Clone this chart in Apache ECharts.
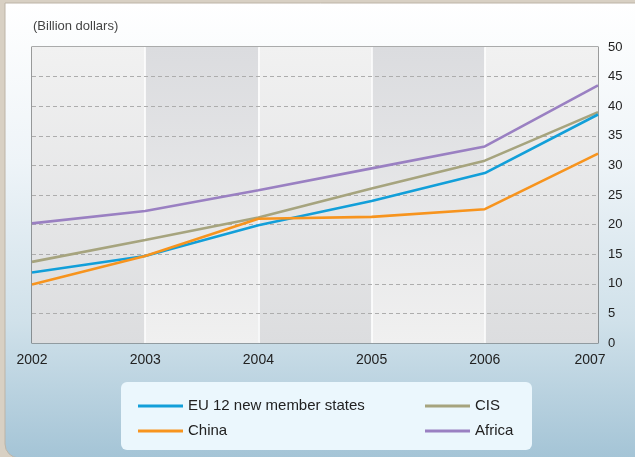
<!DOCTYPE html>
<html>
<head>
<meta charset="utf-8">
<script src="https://cdn.jsdelivr.net/npm/echarts@6/dist/echarts.min.js"></script>
<style>
html,body{margin:0;padding:0;background:#d8d0c3;}
#chart{width:635px;height:457px;}
</style>
</head>
<body>
<div id="chart"></div>
<script>
// ---- data ----
const years = ['2002', '2003', '2004', '2005', '2006', '2007'];
const yTicks = [0, 5, 10, 15, 20, 25, 30, 35, 40, 45, 50];
const euNew = [11.9, 14.7, 19.9, 24.0, 28.7, 38.6];
const china = [9.9, 14.7, 21.0, 21.3, 22.6, 32.0];
const cis = [13.7, 17.4, 21.2, 26.1, 30.8, 39.0];
const africa = [20.2, 22.3, 25.8, 29.5, 33.2, 43.5];
const seriesNames = ['EU 12 new member states', 'China', 'CIS', 'Africa'];

const FONT = "'Liberation Sans', Arial, sans-serif";
const chart = echarts.init(document.getElementById('chart'), null, {renderer: 'canvas'});

function grad(top, bottom) {
  return new echarts.graphic.LinearGradient(0, 0, 0, 1, [
    {offset: 0, color: top}, {offset: 1, color: bottom}
  ]);
}

const legendCommon = {
  orient: 'vertical', top: 396, padding: 0,
  icon: 'rect', itemWidth: 45, itemHeight: 3, itemGap: 5,
  textStyle: {fontFamily: FONT, fontSize: 15, color: '#222', lineHeight: 20}
};

const option = {
  backgroundColor: 'transparent',
  animation: false,
  graphic: [
    {
      type: 'rect', z: -10, silent: true,
      shape: {x: 5, y: 3, width: 640, height: 455, r: [0, 0, 0, 14]},
      style: {
        fill: new echarts.graphic.LinearGradient(0, 0, 0, 1, [
          {offset: 0, color: '#ffffff'},
          {offset: 0.35, color: '#eef4f8'},
          {offset: 0.7, color: '#d0e1ea'},
          {offset: 1, color: '#a4c4d6'}
        ]),
        stroke: '#bdb4a6', lineWidth: 1
      }
    },
    {
      type: 'rect', z: -5, silent: true,
      shape: {x: 121, y: 382, width: 411, height: 68, r: 6},
      style: {fill: '#ebf7fd'}
    }
  ],
  title: {
    text: '(Billion dollars)',
    left: 28, top: 15,
    textStyle: {fontFamily: FONT, fontSize: 13, fontWeight: 'normal', color: '#444'}
  },
  legend: [
    Object.assign({data: [seriesNames[0], seriesNames[1]], left: 138}, legendCommon),
    Object.assign({data: [seriesNames[2], seriesNames[3]], left: 425}, legendCommon)
  ],
  grid: {
    left: 32, right: 37, top: 47, bottom: 114,
    show: true, borderColor: '#5a5a5a', borderWidth: 1.2, backgroundColor: 'transparent'
  },
  xAxis: {
    type: 'category',
    z: 0,
    boundaryGap: false,
    data: years.map((y, i) => i === years.length - 1 ? {value: y, textStyle: {padding: [0, 16, 0, 0]}} : y),
    axisLine: {show: false},
    axisTick: {show: false},
    axisLabel: {fontFamily: FONT, fontSize: 14, color: '#222', margin: 10},
    splitLine: {show: true, interval: (i) => i > 0 && i < years.length - 1, lineStyle: {color: '#ffffff', width: 1.5}},
    splitArea: {
      show: true,
      areaStyle: {color: [grad('#f1f1f1', '#dcdddf'), grad('#dbdcdf', '#f0f0f0')]}
    }
  },
  yAxis: {
    type: 'value',
    z: 1,
    position: 'right',
    min: yTicks[0], max: yTicks[yTicks.length - 1], interval: 5,
    axisLine: {show: false},
    axisTick: {show: false},
    axisLabel: {fontFamily: FONT, fontSize: 13, color: '#222', margin: 10},
    splitLine: {show: true, showMinLine: false, showMaxLine: false, lineStyle: {color: '#adadad', type: [4, 3], width: 1}}
  },
  series: [
    {name: seriesNames[3], type: 'line', z: 3, data: africa, symbol: 'none', lineStyle: {width: 2.6, color: '#9a80c2'}, itemStyle: {color: '#9a80c2'}},
    {name: seriesNames[2], type: 'line', z: 3, data: cis, symbol: 'none', lineStyle: {width: 2.6, color: '#a6a47e'}, itemStyle: {color: '#a6a47e'}},
    {name: seriesNames[0], type: 'line', z: 3, data: euNew, symbol: 'none', lineStyle: {width: 2.6, color: '#129fd9'}, itemStyle: {color: '#129fd9'}},
    {name: seriesNames[1], type: 'line', z: 3, data: china, symbol: 'none', lineStyle: {width: 2.6, color: '#f7941e'}, itemStyle: {color: '#f7941e'}}
  ]
};
chart.setOption(option);
</script>
</body>
</html>
